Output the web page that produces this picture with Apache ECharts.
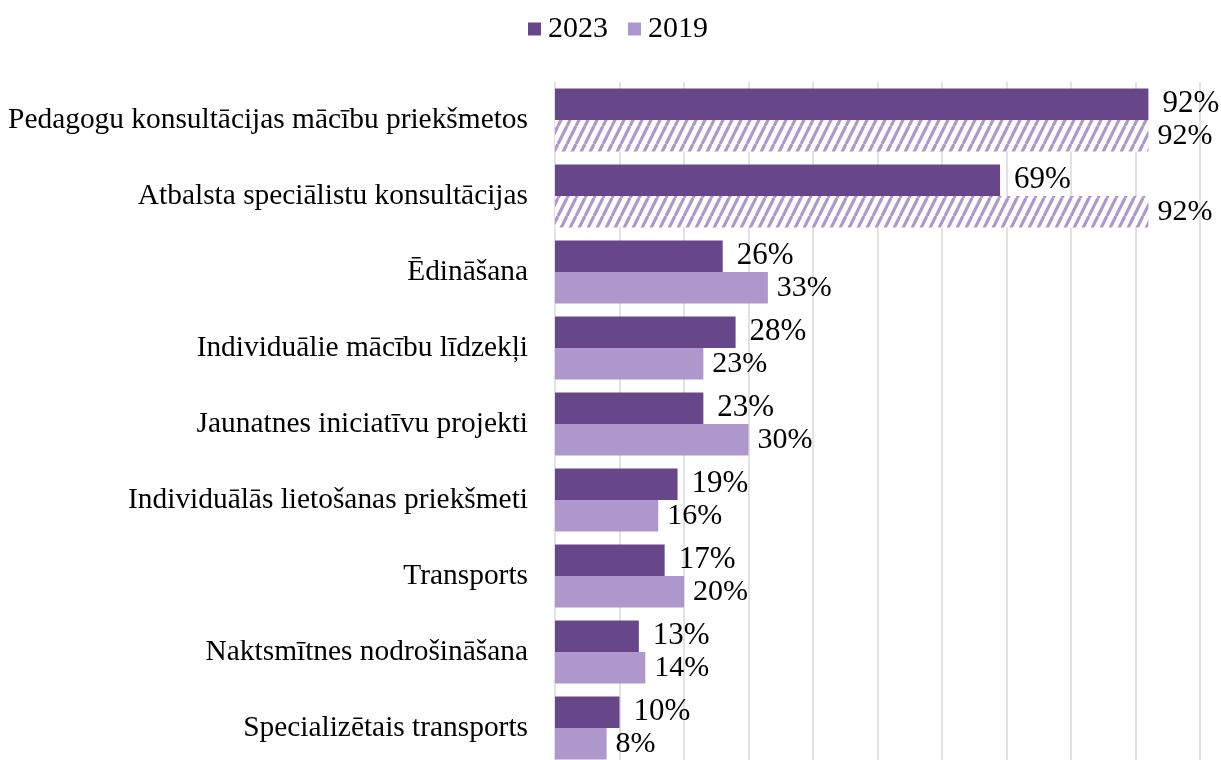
<!DOCTYPE html>
<html>
<head>
<meta charset="utf-8">
<script src="https://cdn.jsdelivr.net/npm/echarts@6/dist/echarts.min.js"></script>
<style>
  html, body { margin: 0; padding: 0; background: #fff; }
  #chart { width: 1221px; height: 760px; }
</style>
</head>
<body>
<div id="chart"></div>
<script>
// kategorijas (no augšas uz leju)
const categories = [
  'Pedagogu konsultācijas mācību priekšmetos',
  'Atbalsta speciālistu konsultācijas',
  'Ēdināšana',
  'Individuālie mācību līdzekļi',
  'Jaunatnes iniciatīvu projekti',
  'Individuālās lietošanas priekšmeti',
  'Transports',
  'Naktsmītnes nodrošināšana',
  'Specializētais transports'
];
const values2023 = [92, 69, 26, 28, 23, 19, 17, 13, 10];
const values2019 = [92, 92, 33, 23, 30, 16, 20, 14, 8];
const seriesNames = ['2023', '2019'];

const hatchedIdx = [0, 1]; // svītrotie 2019 stabiņi
const darkColor = '#67468a';
const lightColor = '#ae97cb';
const fontFamily = '"Liberation Serif", "Times New Roman", serif';

// svītrojuma raksts
function makeHatch() {
  const c = document.createElement('canvas');
  c.width = 9; c.height = 18;
  const ctx = c.getContext('2d');
  ctx.fillStyle = '#fff';
  ctx.fillRect(0, 0, 9, 18);
  ctx.strokeStyle = lightColor;
  ctx.lineWidth = 3.2;
  for (let dx = -9; dx <= 9; dx += 9) {
    ctx.beginPath();
    ctx.moveTo(dx, 18);
    ctx.lineTo(dx + 9, 0);
    ctx.stroke();
  }
  return c;
}
const hatch = makeHatch();

const data2019 = values2019.map((v, i) => hatchedIdx.includes(i)
  ? { value: v, itemStyle: { color: { image: hatch, repeat: 'repeat' } } }
  : v);

const chart = echarts.init(document.getElementById('chart'));
chart.setOption({
  animation: false,
  legend: {
    top: 9,
    left: 523,
    itemWidth: 13,
    itemHeight: 13,
    itemGap: 20,
    icon: 'rect',
    textStyle: { fontFamily: fontFamily, fontSize: 30, color: '#000', padding: [0, 0, 0, 2] },
    data: seriesNames
  },
  grid: {
    left: 555, width: 645, top: 82, height: 684,
    containLabel: false, outerBoundsMode: 'none'
  },
  xAxis: {
    type: 'value',
    min: 0,
    max: 100,
    interval: 10,
    axisLabel: { show: false },
    axisLine: { show: false },
    axisTick: { show: false },
    splitLine: { show: true, lineStyle: { color: '#d9d9d9', width: 1.5 } }
  },
  yAxis: {
    type: 'category',
    inverse: true,
    data: categories,
    axisLine: { show: false },
    axisTick: { show: false },
    axisLabel: { margin: 27, fontFamily: fontFamily, fontSize: 29.4, color: '#000' }
  },
  series: [
    {
      name: seriesNames[0],
      type: 'bar',
      data: values2023,
      barGap: '0%',
      barCategoryGap: '17%',
      itemStyle: { color: darkColor },
      label: {
        show: true, position: 'right', distance: 14,
        formatter: '{c}%', fontFamily: fontFamily, fontSize: 31, color: '#000'
      }
    },
    {
      name: seriesNames[1],
      type: 'bar',
      data: data2019,
      itemStyle: { color: lightColor },
      label: {
        show: true, position: 'right', distance: 9,
        formatter: '{c}%', fontFamily: fontFamily, fontSize: 30, color: '#000'
      }
    }
  ]
});
</script>
</body>
</html>
